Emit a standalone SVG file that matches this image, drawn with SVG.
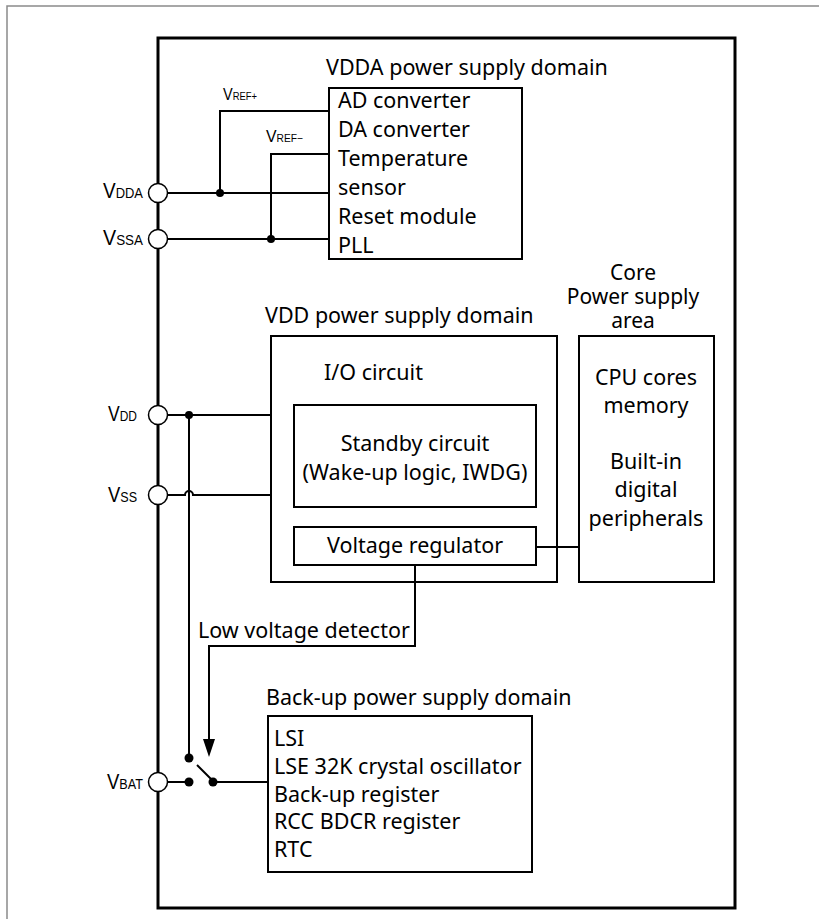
<svg xmlns="http://www.w3.org/2000/svg" width="819" height="919" viewBox="0 0 819 919">
<defs>
<style>
.t{font-family:"Noto Sans","Liberation Sans",sans-serif;font-size:21.5px;fill:#000}
.c{text-anchor:middle}
.p{font-family:"Liberation Sans",Arial,sans-serif;font-size:22px;fill:#000}
.s{font-size:15px}
.r{font-family:"Liberation Sans",Arial,sans-serif;font-size:17px;fill:#000}
.rs{font-size:11px}
.box{fill:none;stroke:#000;stroke-width:2}
.w{fill:none;stroke:#000;stroke-width:2}
.pin{fill:#fff;stroke:#000;stroke-width:1.5}
.dot{fill:#000}
</style>
</defs>
<rect x="7" y="6" width="820" height="930" fill="none" stroke="#8a8a8a" stroke-width="1.5"/>
<g id="chip">
<rect x="158" y="38" width="577" height="870" fill="none" stroke="#000" stroke-width="3"/>
</g>
<g id="connectors">
<path class="w" d="M167,193 H329"/>
<path class="w" d="M167,239 H329"/>
<path class="w" d="M220,193 V111 H329"/>
<path class="w" d="M271,239 V154 H329"/>
<path class="w" d="M167,415 H271"/>
<path class="w" d="M189,415 V758"/>
<path class="w" d="M167,495 H185 A4,4 0 0 1 193,495 H271"/>
<path class="w" d="M536,547 H579"/>
<path class="w" d="M415,565 V646 H209 V741"/>
<polygon points="203,739 215,739 209,757" fill="#000"/>
<path class="w" d="M167,782 H188"/>
<path class="w" d="M197,765 L212,780"/>
<path class="w" d="M213,782 H268"/>
<circle class="dot" cx="220" cy="193" r="4"/>
<circle class="dot" cx="271" cy="239" r="4"/>
<circle class="dot" cx="189" cy="415" r="4"/>
<circle class="dot" cx="189" cy="758" r="4.5"/>
<circle class="dot" cx="189" cy="782" r="4.5"/>
<circle class="dot" cx="213" cy="782" r="4.5"/>
<text class="t" x="198" y="638">Low voltage detector</text>
<text class="r" x="223" y="100" textLength="34" lengthAdjust="spacingAndGlyphs">V<tspan class="rs">REF+</tspan></text>
<text class="r" x="266" y="142" textLength="37" lengthAdjust="spacingAndGlyphs">V<tspan class="rs">REF−</tspan></text>
</g>
<g id="pin-vdda"><circle class="pin" cx="158" cy="193" r="9.5"/><text class="p" x="103" y="198" textLength="40" lengthAdjust="spacingAndGlyphs">V<tspan class="s">DDA</tspan></text></g>
<g id="pin-vssa"><circle class="pin" cx="158" cy="239" r="9.5"/><text class="p" x="103" y="245" textLength="40" lengthAdjust="spacingAndGlyphs">V<tspan class="s">SSA</tspan></text></g>
<g id="pin-vdd"><circle class="pin" cx="158" cy="415" r="9.5"/><text class="p" x="108" y="421" textLength="29" lengthAdjust="spacingAndGlyphs">V<tspan class="s">DD</tspan></text></g>
<g id="pin-vss"><circle class="pin" cx="158" cy="495" r="9.5"/><text class="p" x="108" y="502" textLength="29" lengthAdjust="spacingAndGlyphs">V<tspan class="s">SS</tspan></text></g>
<g id="pin-vbat"><circle class="pin" cx="158" cy="782" r="9.5"/><text class="p" x="107" y="789" textLength="36" lengthAdjust="spacingAndGlyphs">V<tspan class="s">BAT</tspan></text></g>
<g id="vdda-domain">
<text class="t" x="326" y="75">VDDA power supply domain</text>
<rect class="box" x="329" y="88" width="193" height="171"/>
<text class="t" x="338" y="108">AD converter</text>
<text class="t" x="338" y="137">DA converter</text>
<text class="t" x="338" y="166">Temperature</text>
<text class="t" x="338" y="195">sensor</text>
<text class="t" x="338" y="224">Reset module</text>
<text class="t" x="338" y="253">PLL</text>
</g>
<g id="vdd-domain">
<text class="t" x="265" y="323">VDD power supply domain</text>
<rect class="box" x="271" y="336" width="286" height="246"/>
<text class="t" x="324" y="380">I/O circuit</text>
</g>
<g id="standby">
<rect class="box" x="294" y="405" width="242" height="102"/>
<text class="t c" x="415" y="451">Standby circuit</text>
<text class="t c" x="415" y="480">(Wake-up logic, IWDG)</text>
</g>
<g id="regulator">
<rect class="box" x="294" y="527" width="242" height="38"/>
<text class="t c" x="415" y="553">Voltage regulator</text>
</g>
<g id="core-domain">
<text class="t c" x="633" y="280" style="font-size:21px">Core</text>
<text class="t c" x="633" y="304" style="font-size:21px">Power supply</text>
<text class="t c" x="633" y="328" style="font-size:21px">area</text>
<rect class="box" x="579" y="336" width="135" height="246"/>
<text class="t c" x="646" y="385">CPU cores</text>
<text class="t c" x="646" y="413">memory</text>
<text class="t c" x="646" y="469">Built-in</text>
<text class="t c" x="646" y="497">digital</text>
<text class="t c" x="646" y="526">peripherals</text>
</g>
<g id="backup-domain">
<text class="t" x="266" y="705">Back-up power supply domain</text>
<rect class="box" x="268" y="716" width="264" height="156"/>
<text class="t" x="274" y="746">LSI</text>
<text class="t" x="274" y="774">LSE 32K crystal oscillator</text>
<text class="t" x="274" y="802">Back-up register</text>
<text class="t" x="274" y="829">RCC BDCR register</text>
<text class="t" x="274" y="857">RTC</text>
</g>
</svg>
